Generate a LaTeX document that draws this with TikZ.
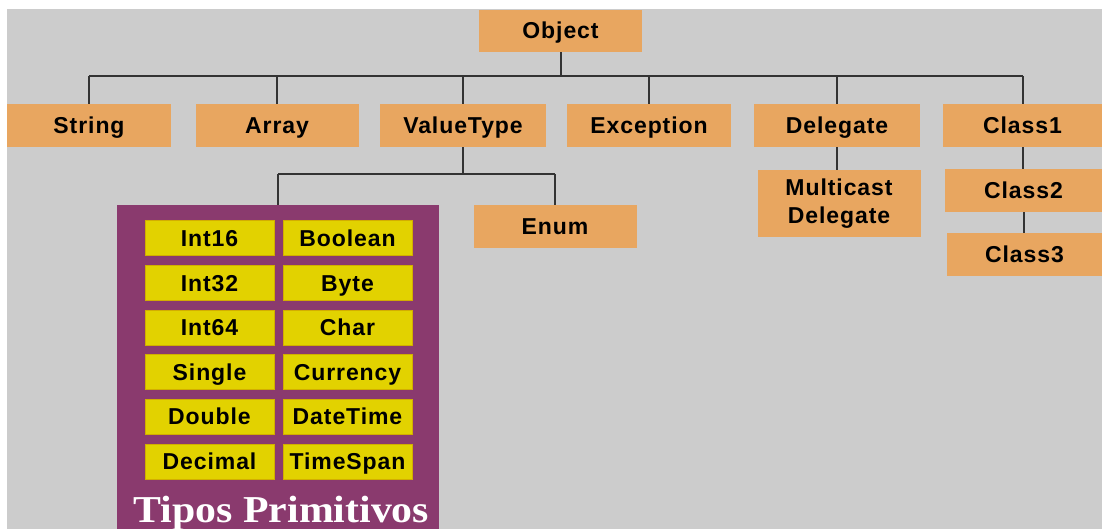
\documentclass[tikz,border=0pt]{standalone}
\usepackage{fontspec}
\newfontfamily\lblfont{Liberation Sans}[LetterSpace=4]
\newfontfamily\tipfont{Liberation Serif}[FakeStretch=1.1]
\definecolor{bg}{HTML}{CCCCCC}
\definecolor{boxorange}{HTML}{E8A660}
\definecolor{primpurple}{HTML}{8A3A6E}
\definecolor{cellyellow}{HTML}{E2D200}
\definecolor{celledge}{HTML}{D2AE00}
\definecolor{wire}{HTML}{333333}
\begin{document}
\begin{tikzpicture}[x=1pt,y=-1pt,
  classbox/.style={fill=boxorange, draw=none, inner sep=0pt,
    minimum width=#1, minimum height=43pt, align=center,
    font=\lblfont\bfseries\fontsize{23}{28}\selectfont},
  classbox/.default=164pt,
  oneline/.style={text height=18pt, text depth=2pt},
  cell/.style={fill=cellyellow, draw=celledge, line width=1pt, inner sep=0pt,
    minimum width=129pt, minimum height=35pt, text height=18pt, text depth=2pt,
    font=\lblfont\bfseries\fontsize{23}{28}\selectfont},
  wireline/.style={draw=wire, line width=2pt}]

% canvas
\useasboundingbox (0,0) rectangle (1102,529);
\fill[white] (0,0) rectangle (1102,529);
\fill[bg] (7,9) rectangle (1102,529);

% primitive types panel
\begin{scope}
\clip (0,0) rectangle (1102,529);
\node[fill=primpurple, inner sep=0pt, minimum width=322pt, minimum height=330pt,
  anchor=north] (prim) at (278,205) {};
\end{scope}

% root and first level
\node[classbox=163pt, oneline, minimum height=42pt] (obj) at (560.5,31) {Object};
\node[classbox=164pt, oneline] (str) at (89,125.5) {String};
\node[classbox=163pt, oneline] (arr) at (277,125.5) {Array};
\node[classbox=166pt, oneline] (vt)  at (463,125.5) {ValueType};
\node[classbox=164pt, oneline] (exc) at (649,125.5) {Exception};
\node[classbox=166pt, oneline] (del) at (837,125.5) {Delegate};
\node[classbox=159pt, oneline] (cl1) at (1022.5,125.5) {Class1};

% second level
\node[classbox=163pt, minimum height=67pt] (mcd) at (839,203.5) {Multicast\\Delegate};
\node[classbox=157pt, oneline] (cl2) at (1023.5,190.5) {Class2};
\node[classbox=155pt, oneline] (cl3) at (1024.5,254.5) {Class3};
\node[classbox=163pt, oneline] (enum) at (555,226.5) {Enum};

% primitive type cells
\foreach \name/\txt/\col/\row in {
  i16/Int16/0/0, i32/Int32/0/1, i64/Int64/0/2, sgl/Single/0/3, dbl/Double/0/4, dec/Decimal/0/5,
  bool/Boolean/1/0, byte/Byte/1/1, chr/Char/1/2, cur/Currency/1/3, dt/DateTime/1/4, ts/TimeSpan/1/5}
  \node[cell] (\name) at (209.5+138*\col, 238.5+44.6*\row) {\txt};

\node[text=white, anchor=base, font=\tipfont\bfseries\fontsize{38}{40}\selectfont]
  (tiplabel) at (281.5,522) {Tipos Primitivos};

% connectors: Object to first level
\coordinate (bus) at (0,76);
\draw[wireline] (obj.south) -- (obj.south |- bus);
\draw[wireline] (str.north |- bus) -- (cl1.north |- bus);
\foreach \n in {str,arr,vt,exc,del,cl1}
  \draw[wireline] (\n.north) -- (\n.north |- bus);

% ValueType children
\coordinate (vbus) at (0,174);
\draw[wireline] (vt.south) -- (vt.south |- vbus);
\draw[wireline] (prim.north |- vbus) -- (enum.north |- vbus);
\draw[wireline] (prim.north |- vbus) -- (prim.north);
\draw[wireline] (enum.north |- vbus) -- (enum.north);

% single-child chains
\draw[wireline] (del.south) -- (del.south |- mcd.north);
\draw[wireline] (cl1.south) -- (cl1.south |- cl2.north);
\draw[wireline] (cl2.south) -- (cl2.south |- cl3.north);
\end{tikzpicture}
\end{document}
